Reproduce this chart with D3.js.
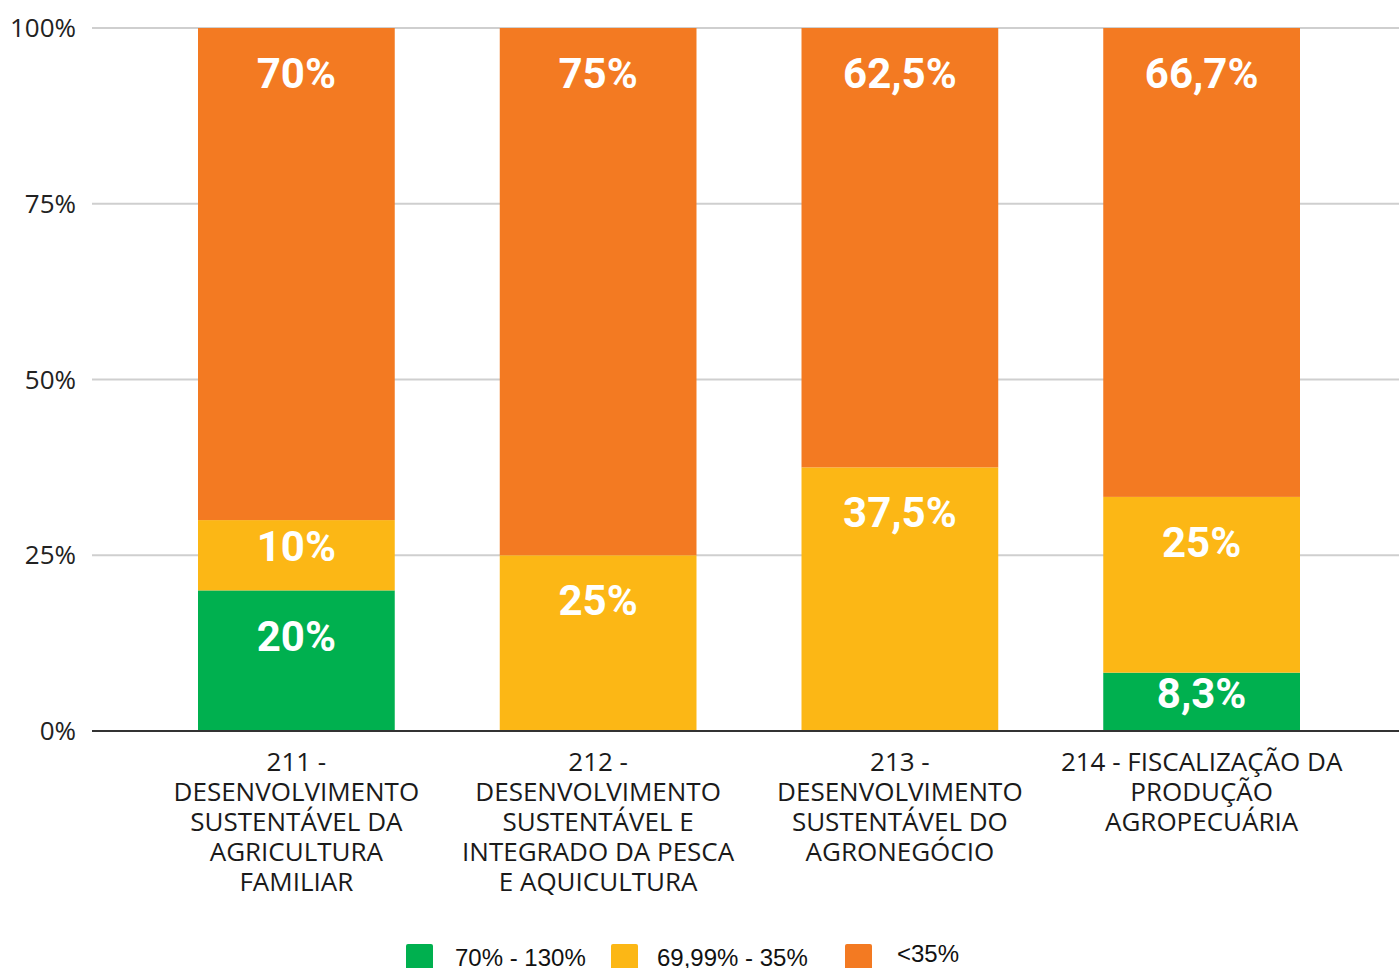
<!DOCTYPE html>
<html>
<head>
<meta charset="utf-8">
<script src="https://cdn.jsdelivr.net/npm/d3@7"></script>
<style>
  body { margin: 0; background: #fff; }
  svg { display: block; }
</style>
</head>
<body>
<div id="chart"></div>
<script>
// data
const categories = ['211', '212', '213', '214']
const categoryLabels = [
  ['211 -', 'DESENVOLVIMENTO', 'SUSTENTÁVEL DA', 'AGRICULTURA', 'FAMILIAR'],
  ['212 -', 'DESENVOLVIMENTO', 'SUSTENTÁVEL E', 'INTEGRADO DA PESCA', 'E AQUICULTURA'],
  ['213 -', 'DESENVOLVIMENTO', 'SUSTENTÁVEL DO', 'AGRONEGÓCIO'],
  ['214 - FISCALIZAÇÃO DA', 'PRODUÇÃO', 'AGROPECUÁRIA']
]
const greenValues = [0.20, 0, 0, 0.083]
const yellowValues = [0.10, 0.25, 0.375, 0.25]
const orangeValues = [0.70, 0.75, 0.625, 0.667]
const seriesNames = ['70% - 130%', '69,99% - 35%', '<35%']
const seriesKeys = ['green', 'yellow', 'orange']
const yTicks = [0, 0.25, 0.5, 0.75, 1]

const colors = { green: '#00B04F', yellow: '#FCB715', orange: '#F37A22' }

const W = 1399, H = 968

const rows = categories.map((c, i) => ({
  cat: c,
  green: greenValues[i],
  yellow: yellowValues[i],
  orange: orangeValues[i]
}))

const svg = d3.select('#chart').append('svg')
  .attr('width', W)
  .attr('height', H)

const x = d3.scaleBand()
  .domain(categories)
  .range([145.5, 1352.5])
  .paddingInner(0.348)
  .paddingOuter(0.174)

const y = d3.scaleLinear()
  .domain([0, 1])
  .range([731, 28])

// gridlines
svg.append('g')
  .selectAll('line')
  .data(yTicks.filter(d => d > 0))
  .enter()
  .append('line')
  .attr('x1', 92)
  .attr('x2', W)
  .attr('y1', d => y(d))
  .attr('y2', d => y(d))
  .attr('stroke', '#cfcfcf')
  .attr('stroke-width', 2)

// y tick labels
svg.append('g')
  .selectAll('text')
  .data(yTicks)
  .enter()
  .append('text')
  .attr('x', 76)
  .attr('y', d => y(d))
  .attr('dy', '0.35em')
  .attr('text-anchor', 'end')
  .attr('font-family', 'Open Sans')
  .attr('font-size', 26)
  .attr('fill', '#222')
  .text(d => Math.round(d * 100) + '%')

const stack = d3.stack().keys(seriesKeys)
const layers = stack(rows)

const bars = svg.append('g')
layers.forEach(layer => {
  bars.selectAll('.bar-' + layer.key)
    .data(layer)
    .enter()
    .append('rect')
    .attr('class', 'bar-' + layer.key)
    .attr('x', d => x(d.data.cat))
    .attr('width', x.bandwidth())
    .attr('y', d => y(d[1]))
    .attr('height', d => y(d[0]) - y(d[1]))
    .attr('fill', colors[layer.key])
})

// value labels
const fmt = v => {
  let s = (Math.round(v * 1000) / 10).toString().replace('.', ',')
  return s + '%'
}
layers.forEach(layer => {
  bars.selectAll('.lbl-' + layer.key)
    .data(layer.filter(d => d[1] - d[0] > 0))
    .enter()
    .append('text')
    .attr('class', 'lbl-' + layer.key)
    .attr('x', d => x(d.data.cat) + x.bandwidth() / 2)
    .attr('y', d => {
      let top = y(d[1]), h = y(d[0]) - y(d[1])
      return top + Math.min(45, h / 2 - 9)
    })
    .attr('dy', '0.36em')
    .attr('text-anchor', 'middle')
    .attr('font-family', 'Roboto')
    .attr('font-weight', 'bold')
    .attr('font-size', 42)
    .attr('fill', '#fff')
    .text(d => fmt(d[1] - d[0]))
})

// baseline
svg.append('line')
  .attr('x1', 92)
  .attr('x2', W)
  .attr('y1', y(0))
  .attr('y2', y(0))
  .attr('stroke', '#333')
  .attr('stroke-width', 2)

// category labels
const catG = svg.append('g')
categories.forEach((c, i) => {
  let t = catG.append('text')
    .attr('x', x(c) + x.bandwidth() / 2)
    .attr('y', 771)
    .attr('text-anchor', 'middle')
    .attr('font-family', 'Open Sans')
    .attr('font-size', 26)
    .attr('fill', '#1a1a1a')
  categoryLabels[i].forEach((line, j) => {
    t.append('tspan')
      .attr('x', x(c) + x.bandwidth() / 2)
      .attr('y', 771 + j * 30)
      .text(line)
  })
})

// legend
const legendX = [406, 611, 845]
const legendTextX = [455, 657, 897]
const legendBase = [966, 966, 962]
const legend = svg.append('g')
seriesKeys.forEach((k, i) => {
  legend.append('rect')
    .attr('x', legendX[i])
    .attr('y', 944)
    .attr('width', 27)
    .attr('height', 27)
    .attr('rx', 2)
    .attr('fill', colors[k])
  legend.append('text')
    .attr('x', legendTextX[i])
    .attr('y', legendBase[i])
    .attr('font-family', 'Liberation Sans')
    .attr('font-size', 24)
    .attr('fill', '#111')
    .text(seriesNames[i])
})
</script>
</body>
</html>
